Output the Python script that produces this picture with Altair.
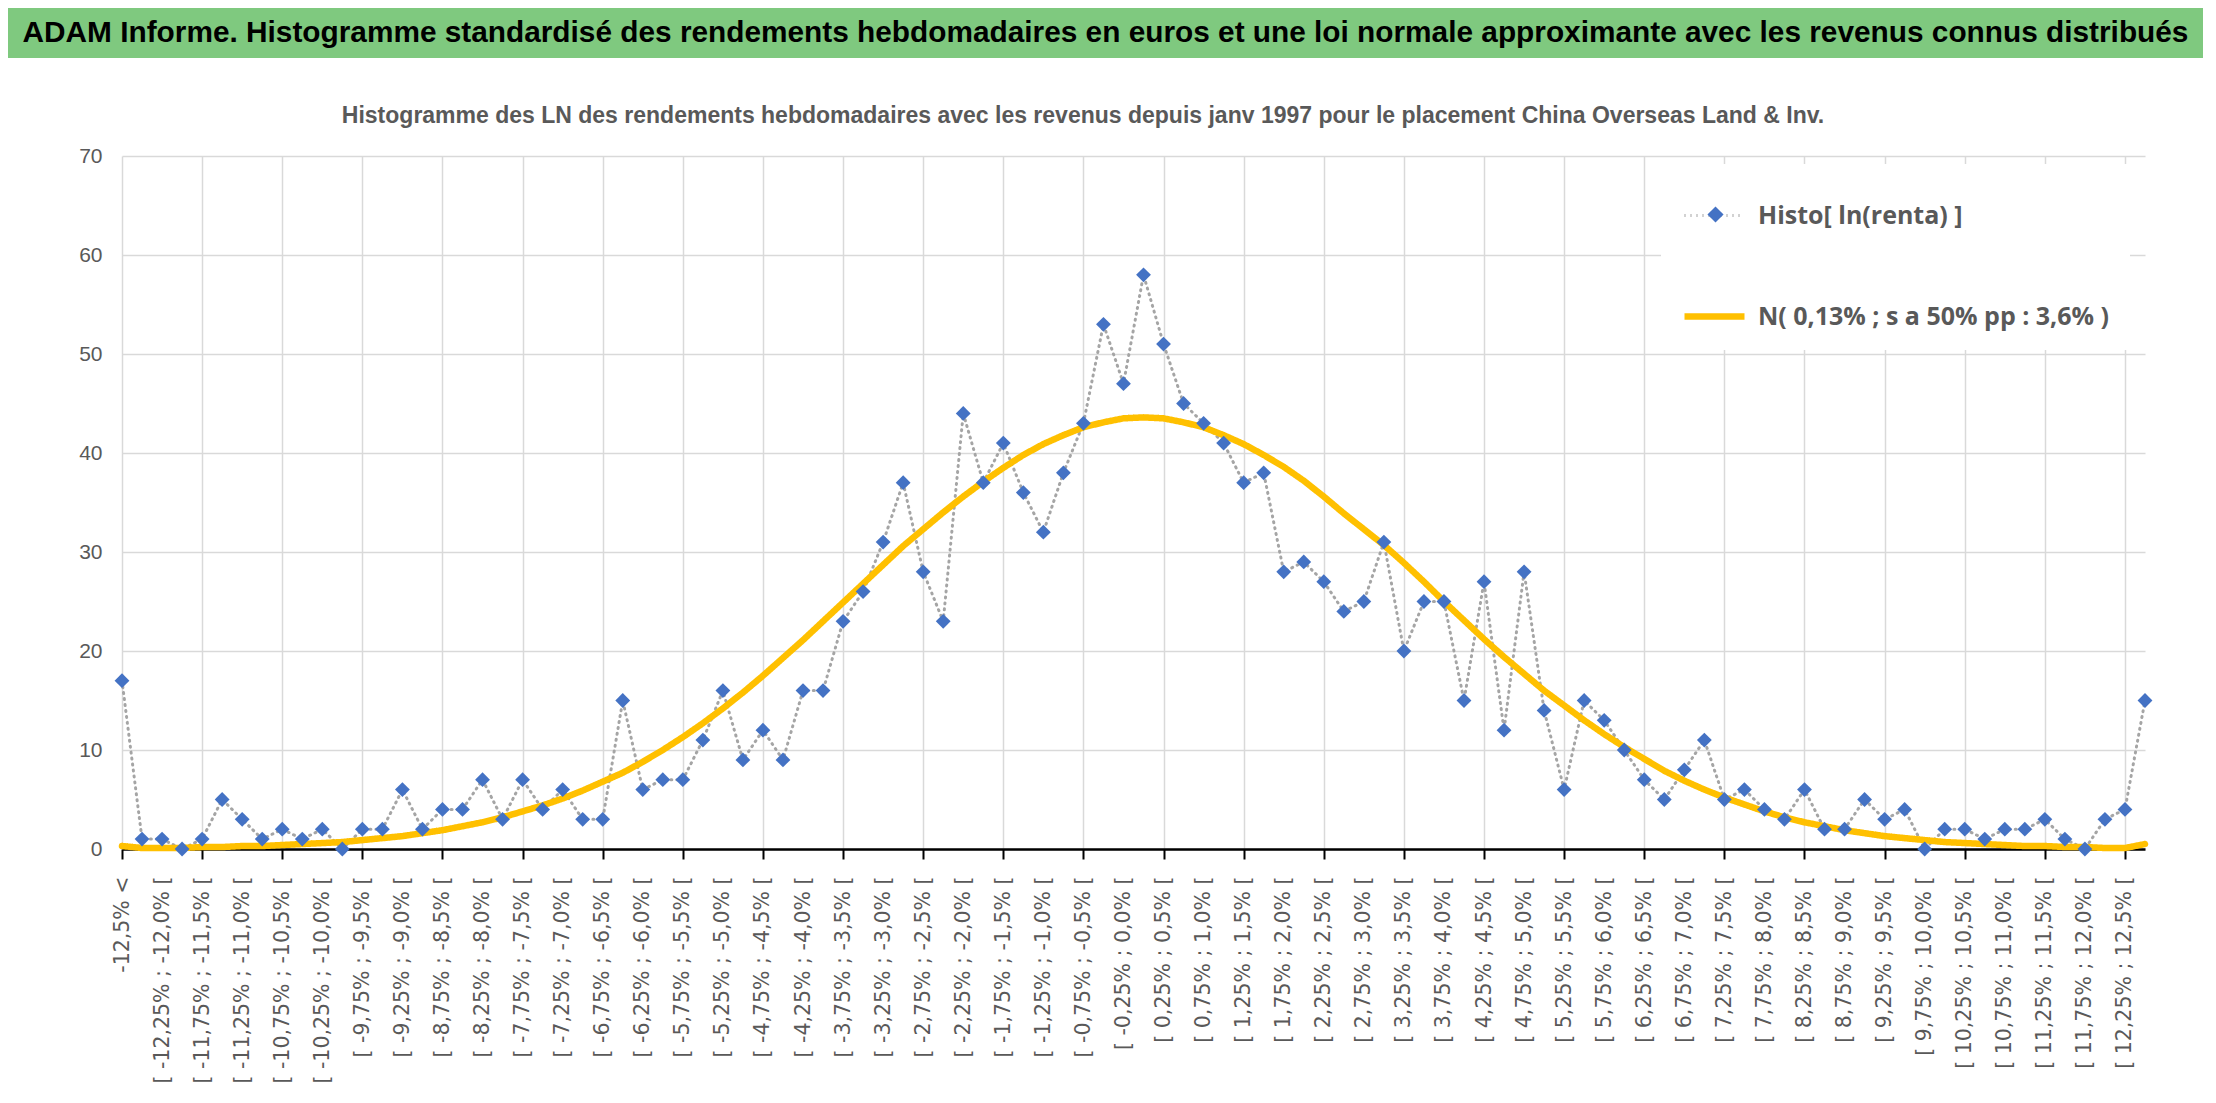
import json
import altair as alt
import pandas as pd

TITLE = ("ADAM Informe. Histogramme standardisé des rendements hebdomadaires en euros "
         "et une loi normale approximante avec les revenus connus distribués")
SUBTITLE = ("Histogramme des LN des rendements hebdomadaires avec les revenus depuis janv 1997 "
            "pour le placement China Overseas Land & Inv.")
SERIES = ["Histo[ ln(renta) ]", "N( 0,13% ; s a 50% pp : 3,6% )"]

categories = [
    "-12,5% <",
    "[ -12,5% ; -12,25% [", "[ -12,25% ; -12,0% [", "[ -12,0% ; -11,75% [", "[ -11,75% ; -11,5% [",
    "[ -11,5% ; -11,25% [", "[ -11,25% ; -11,0% [", "[ -11,0% ; -10,75% [", "[ -10,75% ; -10,5% [",
    "[ -10,5% ; -10,25% [", "[ -10,25% ; -10,0% [", "[ -10,0% ; -9,75% [", "[ -9,75% ; -9,5% [",
    "[ -9,5% ; -9,25% [", "[ -9,25% ; -9,0% [", "[ -9,0% ; -8,75% [", "[ -8,75% ; -8,5% [",
    "[ -8,5% ; -8,25% [", "[ -8,25% ; -8,0% [", "[ -8,0% ; -7,75% [", "[ -7,75% ; -7,5% [",
    "[ -7,5% ; -7,25% [", "[ -7,25% ; -7,0% [", "[ -7,0% ; -6,75% [", "[ -6,75% ; -6,5% [",
    "[ -6,5% ; -6,25% [", "[ -6,25% ; -6,0% [", "[ -6,0% ; -5,75% [", "[ -5,75% ; -5,5% [",
    "[ -5,5% ; -5,25% [", "[ -5,25% ; -5,0% [", "[ -5,0% ; -4,75% [", "[ -4,75% ; -4,5% [",
    "[ -4,5% ; -4,25% [", "[ -4,25% ; -4,0% [", "[ -4,0% ; -3,75% [", "[ -3,75% ; -3,5% [",
    "[ -3,5% ; -3,25% [", "[ -3,25% ; -3,0% [", "[ -3,0% ; -2,75% [", "[ -2,75% ; -2,5% [",
    "[ -2,5% ; -2,25% [", "[ -2,25% ; -2,0% [", "[ -2,0% ; -1,75% [", "[ -1,75% ; -1,5% [",
    "[ -1,5% ; -1,25% [", "[ -1,25% ; -1,0% [", "[ -1,0% ; -0,75% [", "[ -0,75% ; -0,5% [",
    "[ -0,5% ; -0,25% [", "[ -0,25% ; 0,0% [", "[ 0,0% ; 0,25% [", "[ 0,25% ; 0,5% [",
    "[ 0,5% ; 0,75% [", "[ 0,75% ; 1,0% [", "[ 1,0% ; 1,25% [", "[ 1,25% ; 1,5% [",
    "[ 1,5% ; 1,75% [", "[ 1,75% ; 2,0% [", "[ 2,0% ; 2,25% [", "[ 2,25% ; 2,5% [",
    "[ 2,5% ; 2,75% [", "[ 2,75% ; 3,0% [", "[ 3,0% ; 3,25% [", "[ 3,25% ; 3,5% [",
    "[ 3,5% ; 3,75% [", "[ 3,75% ; 4,0% [", "[ 4,0% ; 4,25% [", "[ 4,25% ; 4,5% [",
    "[ 4,5% ; 4,75% [", "[ 4,75% ; 5,0% [", "[ 5,0% ; 5,25% [", "[ 5,25% ; 5,5% [",
    "[ 5,5% ; 5,75% [", "[ 5,75% ; 6,0% [", "[ 6,0% ; 6,25% [", "[ 6,25% ; 6,5% [",
    "[ 6,5% ; 6,75% [", "[ 6,75% ; 7,0% [", "[ 7,0% ; 7,25% [", "[ 7,25% ; 7,5% [",
    "[ 7,5% ; 7,75% [", "[ 7,75% ; 8,0% [", "[ 8,0% ; 8,25% [", "[ 8,25% ; 8,5% [",
    "[ 8,5% ; 8,75% [", "[ 8,75% ; 9,0% [", "[ 9,0% ; 9,25% [", "[ 9,25% ; 9,5% [",
    "[ 9,5% ; 9,75% [", "[ 9,75% ; 10,0% [", "[ 10,0% ; 10,25% [", "[ 10,25% ; 10,5% [",
    "[ 10,5% ; 10,75% [", "[ 10,75% ; 11,0% [", "[ 11,0% ; 11,25% [", "[ 11,25% ; 11,5% [",
    "[ 11,5% ; 11,75% [", "[ 11,75% ; 12,0% [", "[ 12,0% ; 12,25% [", "[ 12,25% ; 12,5% [",
    ">= 12,5%",
]

histo = [17, 1, 1, 0, 1, 5, 3, 1, 2, 1,
         2, 0, 2, 2, 6, 2, 4, 4, 7, 3,
         7, 4, 6, 3, 3, 15, 6, 7, 7, 11,
         16, 9, 12, 9, 16, 16, 23, 26, 31, 37,
         28, 23, 44, 37, 41, 36, 32, 38, 43, 53,
         47, 58, 51, 45, 43, 41, 37, 38, 28, 29,
         27, 24, 25, 31, 20, 25, 25, 15, 27, 12,
         28, 14, 6, 15, 13, 10, 7, 5, 8, 11,
         5, 6, 4, 3, 6, 2, 2, 5, 3, 4,
         0, 2, 2, 1, 2, 2, 3, 1, 0, 3,
         4, 15]

normal = [0.3, 0.1, 0.1, 0.1, 0.2, 0.2, 0.3, 0.3, 0.4, 0.5,
          0.6, 0.7, 0.9, 1.1, 1.3, 1.6, 1.9, 2.3, 2.7, 3.2,
          3.8, 4.4, 5.1, 5.9, 6.8, 7.7, 8.8, 10.0, 11.3, 12.7,
          14.2, 15.8, 17.5, 19.3, 21.1, 23.0, 24.9, 26.8, 28.7, 30.6,
          32.3, 34.0, 35.6, 37.1, 38.5, 39.8, 40.9, 41.8, 42.6, 43.1,
          43.5, 43.6, 43.5, 43.1, 42.6, 41.8, 40.9, 39.8, 38.6, 37.2,
          35.6, 33.9, 32.3, 30.7, 28.9, 27.0, 25.0, 23.1, 21.2, 19.4,
          17.7, 16.0, 14.5, 13.0, 11.6, 10.3, 9.1, 7.9, 6.9, 6.0,
          5.2, 4.5, 3.8, 3.2, 2.7, 2.3, 1.9, 1.6, 1.3, 1.1,
          0.9, 0.7, 0.6, 0.5, 0.4, 0.3, 0.3, 0.2, 0.2, 0.1,
          0.1, 0.5]

y_ticks = [0, 10, 20, 30, 40, 50, 60, 70]

label_cats = categories[0:101:2]
grid_cats = categories[0:101:4]

GREEN = "#7FC97F"
GREY_TXT = "#595959"
SANS = "Liberation Sans"
AXIS_SPACE = 114          # room kept, inside the view, for the y labels
PLOT_W = 2023

df_h = pd.DataFrame({"cat": categories, "val": histo, "serie": SERIES[0], "pt": SERIES[0]})
df_n = pd.DataFrame({"cat": categories, "val": normal, "serie": SERIES[1]})

grid_test = "indexof(" + json.dumps(grid_cats) + ", datum.value) >= 0"

X = alt.X(
    "cat:N",
    scale=alt.Scale(type="point", domain=categories, padding=0,
                    range=[AXIS_SPACE, AXIS_SPACE + PLOT_W]),
    axis=alt.Axis(
        values=label_cats, title=None, labelAngle=270, labelAlign="right",
        labelBaseline="middle", labelFont="DejaVu Sans", labelFontSize=20.5,
        labelColor=GREY_TXT, labelPadding=17, labelOverlap=False, labelFlush=False,
        labelLimit=0, domainColor="#000000", domainWidth=2.5,
        tickColor="#000000", tickWidth=2, tickSize=10,
        tickOpacity={"condition": {"test": grid_test, "value": 1}, "value": 0},
        grid=True, gridColor="#D9D9D9", gridWidth=1.5,
        gridOpacity={"condition": {"test": grid_test, "value": 1}, "value": 0},
    ),
)
Y = alt.Y(
    "val:Q",
    scale=alt.Scale(domain=[0, 70], nice=False),
    axis=alt.Axis(
        values=y_ticks, title=None, domain=False, ticks=False, labelFont=SANS,
        labelFontSize=21, labelColor=GREY_TXT, labelPadding=20, offset=-AXIS_SPACE,
        grid=True, gridColor="#D9D9D9", gridWidth=1.5,
    ),
)

leg1 = alt.Legend(
    title=None, orient="none", legendX=1653, legendY=156, fillColor="white",
    padding=20, symbolType="stroke", symbolSize=3600, rowPadding=54,
    labelFont="Open Sans", labelFontSize=25, labelFontWeight="bold",
    labelColor=GREY_TXT, labelOffset=10, labelLimit=0, zindex=1,
)
color_scale = alt.Scale(domain=SERIES, range=["#A5A5A5", "#FFC000"])
dash_scale = alt.Scale(domain=SERIES, range=[[1, 5], [1, 0]])
width_scale = alt.Scale(domain=SERIES, range=[3, 6.5])

def line_layer(df):
    return alt.Chart(df).mark_line(strokeCap="round").encode(
        x=X, y=Y,
        color=alt.Color("serie:N", scale=color_scale, legend=leg1),
        strokeDash=alt.StrokeDash("serie:N", scale=dash_scale, legend=leg1),
        strokeWidth=alt.StrokeWidth("serie:N", scale=width_scale, legend=leg1),
    )

# second legend: only the diamond marker, drawn over the first legend's dotted symbol
leg2 = alt.Legend(
    title=None, orient="none", legendX=1675, legendY=174, padding=20,
    symbolType="diamond", symbolSize=260, symbolFillColor="#4472C4",
    symbolStrokeColor="#4472C4", labelExpr="''", labelOpacity=0,
    labelFontSize=25, zindex=2,
)

points = alt.Chart(df_h).mark_point(filled=True, size=220, color="#4472C4", opacity=1).encode(
    x=X, y=Y,
    shape=alt.Shape("pt:N", scale=alt.Scale(domain=[SERIES[0]], range=["diamond"]), legend=leg2),
)

main = alt.layer(line_layer(df_h), line_layer(df_n), points).properties(
    width=AXIS_SPACE + PLOT_W, height=693,
    title=alt.TitleParams(
        text=SUBTITLE, font=SANS, fontSize=23, fontWeight="bold", color=GREY_TXT,
        anchor="middle", frame="bounds", offset=17,
    ),
)

banner = alt.Chart(pd.DataFrame({"t": [TITLE]})).mark_text(
    align="center", baseline="middle", font=SANS, fontSize=29.8,
    fontWeight="bold", color="#000000",
).encode(text="t:N").properties(
    width=2195, height=50, view=alt.ViewBackground(fill=GREEN, stroke=None),
)

chart = alt.vconcat(banner, main, spacing=47).properties(
    padding=0
).configure_view(stroke=None)

chart.save("out.html", embed_options={"renderer": "svg", "actions": False})
